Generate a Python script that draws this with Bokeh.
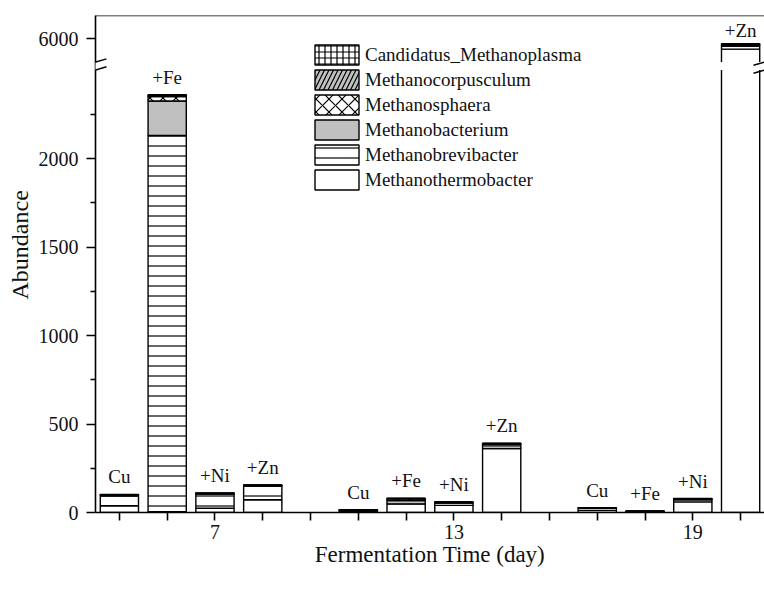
from bokeh.plotting import figure
from bokeh.models import (ColumnDataSource, Range1d, FixedTicker, Legend, LegendItem,
                          LabelSet, Span, Arrow, BoxAnnotation, Title)
from bokeh.embed import file_html
from bokeh.resources import INLINE

# ---- data -------------------------------------------------------------
treatments = ["Cu", "+Fe", "+Ni", "+Zn"]
days = ["7", "13", "19"]

# bars ordered Cu, +Fe, +Ni, +Zn for day 7, then day 13, then day 19
methanothermobacter = [38, 5, 24, 72, 5, 49, 40, 362, 12, 3, 60, 5940]
methanobrevibacter = [56, 2125, 80, 78, 6, 0, 14, 22, 12, 3, 12, 18]
methanobacterium = [4, 195, 3, 3, 2, 19, 2, 3, 1, 1, 3, 6]
methanosphaera = [2, 25, 2, 1, 1, 9, 2, 2, 1, 0.5, 2, 3]
methanocorpusculum = [1, 6, 1, 1, 1, 2, 1, 1, 0.5, 0.3, 1, 2]
candidatus_methanoplasma = [1, 4, 1, 1, 1, 2, 1, 1, 0.5, 0.2, 1, 1]

genera = ["Methanothermobacter", "Methanobrevibacter", "Methanobacterium",
          "Methanosphaera", "Methanocorpusculum", "Candidatus_Methanoplasma"]
series = [methanothermobacter, methanobrevibacter, methanobacterium,
          methanosphaera, methanocorpusculum, candidatus_methanoplasma]

# ---- styling per genus (bottom of stack first) -------------------------
fills = ["white", "white", "#c0c0c0", "white", "#c0c0c0", "white"]
hatches = [" ", "horizontal_line", " ", "diagonal_cross", "right_diagonal_line", "cross"]
hatch_scales = [12, 10, 12, 13, 9, 6]

FONT = "Liberation Serif"

# ---- broken y axis: lower segment and upper segment --------------------
LOW_MAX = 2500
GAP = 45
UP_MIN, UP_MAX = 5867, 6130
UP_SHIFT = UP_MIN - LOW_MAX - GAP        # upper value - UP_SHIFT = lower axis value
Y_END = LOW_MAX + GAP + (UP_MAX - UP_MIN)

slot = len(treatments) + 1
xs, labels = [], []
for d in range(len(days)):
    for t, name in enumerate(treatments):
        xs.append(d * slot + t)
        labels.append(name)
n = len(xs)
totals = [sum(s[i] for s in series) for i in range(n)]

low_idx = [i for i in range(n) if totals[i] <= LOW_MAX]
high_idx = [i for i in range(n) if totals[i] > LOW_MAX]


def make_source(idx):
    data = {"x": [xs[i] for i in idx],
            "total": [totals[i] for i in idx],
            "label": [labels[i] for i in idx]}
    for g, s in zip(genera, series):
        data[g] = [s[i] for i in idx]
    return ColumnDataSource(data)


low_src = make_source(low_idx)
high_src = make_source(high_idx)

x_start, x_end = -0.5, xs[-1] + 0.5

p = figure(width=764, height=590, output_backend="svg", toolbar_location=None,
           x_range=Range1d(x_start, x_end), y_range=Range1d(0, Y_END),
           min_border_left=95, min_border_right=0, min_border_top=15,
           min_border_bottom=78)
p.extra_y_ranges = {"upper": Range1d(UP_SHIFT, UP_MAX)}
p.outline_line_color = None
p.xgrid.visible = False
p.ygrid.visible = False
p.background_fill_color = "white"
p.border_fill_color = "white"

bar_kw = dict(width=0.8, line_color="black", line_width=1.4,
              fill_color=fills, hatch_pattern=hatches, hatch_scale=hatch_scales,
              hatch_color="black", hatch_weight=1.2)

low_renderers = p.vbar_stack(genera, x="x", source=low_src, **bar_kw)
p.vbar_stack(genera, x="x", source=high_src, y_range_name="upper", **bar_kw)

# white band that opens the tall bar at the axis break
p.add_layout(BoxAnnotation(left=x_end - 1, right=x_end, bottom=LOW_MAX,
                           top=LOW_MAX + GAP, fill_color="white", fill_alpha=1.0,
                           line_color=None))

# treatment labels above bars
lab_kw = dict(x="x", y="total", text="label", text_align="center",
              text_baseline="alphabetic", text_font=FONT,
              text_font_size="19px", text_color="#111111")
p.add_layout(LabelSet(source=low_src, y_offset=11, **lab_kw))
p.add_layout(LabelSet(source=high_src, y_range_name="upper", y_offset=7, **lab_kw))

# ---- axes -------------------------------------------------------------
xaxis = p.xaxis[0]
xaxis.ticker = FixedTicker(ticks=list(range(0, xs[-1] + 1)))
overrides = {tk: "" for tk in range(0, xs[-1] + 1)}
overrides.update({d * slot + 2: day for d, day in enumerate(days)})
xaxis.major_label_overrides = overrides
xaxis.axis_label = "Fermentation Time (day)"
xaxis.minor_tick_line_color = None
xaxis.major_tick_out = 8
xaxis.major_tick_in = 0
xaxis.major_label_standoff = 4

yaxis = p.yaxis[0]
six_k = 6000 - UP_SHIFT
yaxis.ticker = FixedTicker(ticks=[0, 500, 1000, 1500, 2000, six_k],
                           minor_ticks=[250, 750, 1250, 1750, 2250])
yaxis.major_label_overrides = {six_k: "6000"}
yaxis.major_tick_out = 9
yaxis.major_tick_in = 0
yaxis.minor_tick_out = 5
yaxis.minor_tick_in = 0
yaxis.major_label_standoff = 8

for ax in (xaxis, yaxis):
    ax.axis_line_width = 1.6
    ax.axis_line_color = "black"
    ax.major_tick_line_width = 1.6
    ax.minor_tick_line_width = 1.6
    ax.major_label_text_font = FONT
    ax.major_label_text_font_size = "20px"
    ax.major_label_text_color = "#111111"
    ax.axis_label_text_font = FONT
    ax.axis_label_text_font_size = "23px"
    ax.axis_label_text_font_style = "normal"
    ax.axis_label_text_color = "#111111"
xaxis.axis_label_standoff = 0

# y axis title, placed along the lower part of the frame
p.add_layout(Title(text="Abundance", align="left", offset=213, standoff=6,
                   text_font=FONT, text_font_size="24px", text_font_style="normal",
                   text_color="#111111"), "left")

# top frame line
p.add_layout(Span(location=Y_END, dimension="width", line_color="black",
                  line_width=1.6))

# gap in the y axis line and break marks on both sides
p.add_layout(Arrow(x_start=x_start, y_start=LOW_MAX + 2, x_end=x_start,
                   y_end=LOW_MAX + GAP - 2, start=None, end=None,
                   line_color="white", line_width=5))
for xc in (x_start, x_end):
    for yc in (LOW_MAX, LOW_MAX + GAP):
        p.add_layout(Arrow(x_start=xc - 0.23, y_start=yc - 18, x_end=xc + 0.23,
                           y_end=yc + 18, start=None, end=None,
                           line_color="black", line_width=1.5))

# ---- legend (top of stack listed first) --------------------------------
items = [LegendItem(label=g, renderers=[r])
         for g, r in reversed(list(zip(genera, low_renderers)))]
legend = Legend(items=items, location=(214, 320), orientation="vertical",
                glyph_width=55, glyph_height=25, spacing=0, label_height=20,
                label_standoff=1, padding=0, margin=0,
                border_line_color=None, background_fill_alpha=0,
                label_text_font=FONT, label_text_font_size="19px",
                label_text_color="#111111")
p.add_layout(legend)

open("out.html", "w").write(file_html(p, INLINE))
